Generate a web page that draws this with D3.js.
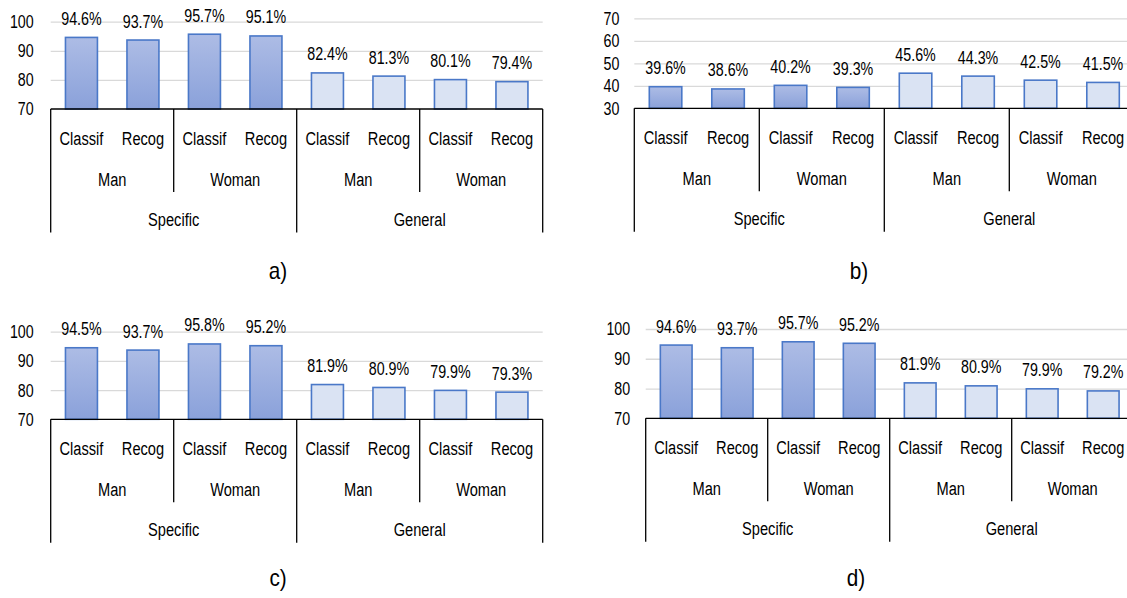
<!DOCTYPE html>
<html>
<head>
<meta charset="utf-8">
<script src="https://cdn.jsdelivr.net/npm/d3@7"></script>
<style>
  body { margin: 0; background: #fff; }
  svg text { font-family: "Liberation Sans", Arial, sans-serif; fill: #000; }
  .grid line { stroke: #d9d9d9; stroke-width: 1.3; }
  .grid path { display: none; }
</style>
</head>
<body>
<div id="chart"></div>
<script>
'use strict';

const scopes = ['Specific', 'General'];
const genders = ['Man', 'Woman'];
const tasks = ['Classif', 'Recog'];

// values in order: Specific Man Classif/Recog, Specific Woman ..., General Man ..., General Woman ...
const valuesA = [94.6, 93.7, 95.7, 95.1, 82.4, 81.3, 80.1, 79.4];
const valuesB = [39.6, 38.6, 40.2, 39.3, 45.6, 44.3, 42.5, 41.5];
const valuesC = [94.5, 93.7, 95.8, 95.2, 81.9, 80.9, 79.9, 79.3];
const valuesD = [94.6, 93.7, 95.7, 95.2, 81.9, 80.9, 79.9, 79.2];

const ticksHigh = [70, 80, 90, 100];
const ticksLow = [30, 40, 50, 60, 70];

const leaves = [];
scopes.forEach(s => genders.forEach(g => tasks.forEach(t => leaves.push({scope: s, gender: g, task: t}))));
const keyOf = d => `${d.scope}|${d.gender}|${d.task}`;

// narrow look (Calibri-like) by squeezing Liberation Sans horizontally
const SQ = 0.77;
const at = (px, py) => `translate(${px}, ${py}) scale(${SQ}, 1)`;

const svg = d3.select('#chart').append('svg')
    .attr('width', 1127)
    .attr('height', 598);

const defs = svg.append('defs');
const grad = defs.append('linearGradient')
    .attr('id', 'specGrad')
    .attr('x1', 0).attr('y1', 0).attr('x2', 0).attr('y2', 1);
grad.append('stop').attr('offset', '0%').attr('stop-color', '#adbce5');
grad.append('stop').attr('offset', '100%').attr('stop-color', '#8aa1da');

function drawPanel(cfg) {
  const g = svg.append('g')
      .attr('transform', `translate(${cfg.left}, ${cfg.top})`);

  const x = d3.scaleBand()
      .domain(leaves.map(keyOf))
      .range([0, cfg.width])
      .paddingInner(0.48)
      .paddingOuter(0.24);

  const y = d3.scaleLinear()
      .domain(d3.extent(cfg.ticks))
      .range([cfg.height, 0]);

  const step = x.step();
  const cellLeft = d => x(keyOf(d)) - step * 0.24;

  // gridlines + tick labels
  const yAxis = d3.axisLeft(y)
      .tickValues(cfg.ticks)
      .tickSizeInner(-cfg.width)
      .tickSizeOuter(0)
      .tickPadding(cfg.tickPad);

  const ga = g.append('g')
      .attr('class', 'grid')
      .call(yAxis);
  ga.selectAll('text')
      .attr('x', 0)
      .attr('transform', at(-cfg.tickPad, 0))
      .style('font-size', '18.5px')
      .attr('fill', '#000');
  ga.selectAll('.tick')
      .filter(d => d === cfg.ticks[0])
      .select('line').remove();

  const data = leaves.map((d, i) => Object.assign({value: cfg.values[i]}, d));

  g.selectAll('.bar')
      .data(data)
    .enter().append('rect')
      .attr('class', 'bar')
      .attr('x', d => x(keyOf(d)))
      .attr('y', d => y(d.value))
      .attr('width', x.bandwidth())
      .attr('height', d => cfg.height - y(d.value))
      .attr('fill', d => d.scope === 'Specific' ? 'url(#specGrad)' : '#dae3f3')
      .attr('stroke', '#4a78c8')
      .attr('stroke-width', 1.6);

  g.selectAll('.val')
      .data(data)
    .enter().append('text')
      .attr('class', 'val')
      .attr('transform', d => at(x(keyOf(d)) + x.bandwidth() / 2, y(d.value) - 19))
      .attr('dy', '0.35em')
      .attr('text-anchor', 'middle')
      .style('font-size', '18.5px')
      .text(d => `${d.value.toFixed(1)}%`);

  // hierarchical category axis
  const axis = g.append('g')
      .attr('transform', `translate(0, ${cfg.height})`);

  axis.append('line')
      .attr('x1', 0).attr('x2', cfg.width)
      .attr('y1', 0).attr('y2', 0)
      .attr('stroke', '#000').attr('stroke-width', 1.3);

  axis.selectAll('.task')
      .data(data)
    .enter().append('text')
      .attr('transform', d => at(x(keyOf(d)) + x.bandwidth() / 2, 29))
      .attr('dy', '0.35em')
      .attr('text-anchor', 'middle')
      .style('font-size', '19px')
      .text(d => d.task);

  const genderGroups = data.filter(d => d.task === tasks[0]);
  axis.selectAll('.gender')
      .data(genderGroups)
    .enter().append('text')
      .attr('transform', d => at(cellLeft(d) + step, 70.5))
      .attr('dy', '0.35em')
      .attr('text-anchor', 'middle')
      .style('font-size', '19px')
      .text(d => d.gender);

  const scopeGroups = data.filter(d => d.task === tasks[0] && d.gender === genders[0]);
  axis.selectAll('.scope')
      .data(scopeGroups)
    .enter().append('text')
      .attr('transform', d => at(cellLeft(d) + step * 2, 110.5))
      .attr('dy', '0.35em')
      .attr('text-anchor', 'middle')
      .style('font-size', '19px')
      .text(d => d.scope);

  // inner separators between genders
  axis.selectAll('.sepInner')
      .data(genderGroups.filter(d => d.gender !== genders[0]))
    .enter().append('line')
      .attr('x1', d => cellLeft(d)).attr('x2', d => cellLeft(d))
      .attr('y1', 0).attr('y2', 83)
      .attr('stroke', '#000').attr('stroke-width', 1.3);

  // outer separators: left edge, scope boundaries, right edge
  const outerX = scopeGroups.map(cellLeft).concat([cfg.width]);
  axis.selectAll('.sepOuter')
      .data(outerX)
    .enter().append('line')
      .attr('x1', d => d).attr('x2', d => d)
      .attr('y1', 0).attr('y2', 123.5)
      .attr('stroke', '#000').attr('stroke-width', 1.3);

  svg.append('text')
      .attr('transform', `translate(${cfg.tagX}, ${cfg.tagY}) scale(0.9, 1)`)
      .attr('dy', '0.35em')
      .attr('text-anchor', 'middle')
      .style('font-size', '23px')
      .text(cfg.tag);
}

drawPanel({values: valuesA, ticks: ticksHigh, left: 50.7, top: 21.7, width: 492, height: 87.3, tickPad: 17, tag: 'a)', tagX: 278, tagY: 271});
drawPanel({values: valuesB, ticks: ticksLow, left: 634.3, top: 18.3, width: 500, height: 90, tickPad: 15, tag: 'b)', tagX: 859, tagY: 271});
drawPanel({values: valuesC, ticks: ticksHigh, left: 50.7, top: 331.7, width: 492, height: 87.6, tickPad: 17, tag: 'c)', tagX: 278, tagY: 578});
drawPanel({values: valuesD, ticks: ticksHigh, left: 645.7, top: 329, width: 488, height: 89.3, tickPad: 15.5, tag: 'd)', tagX: 856, tagY: 578});
</script>
</body>
</html>
